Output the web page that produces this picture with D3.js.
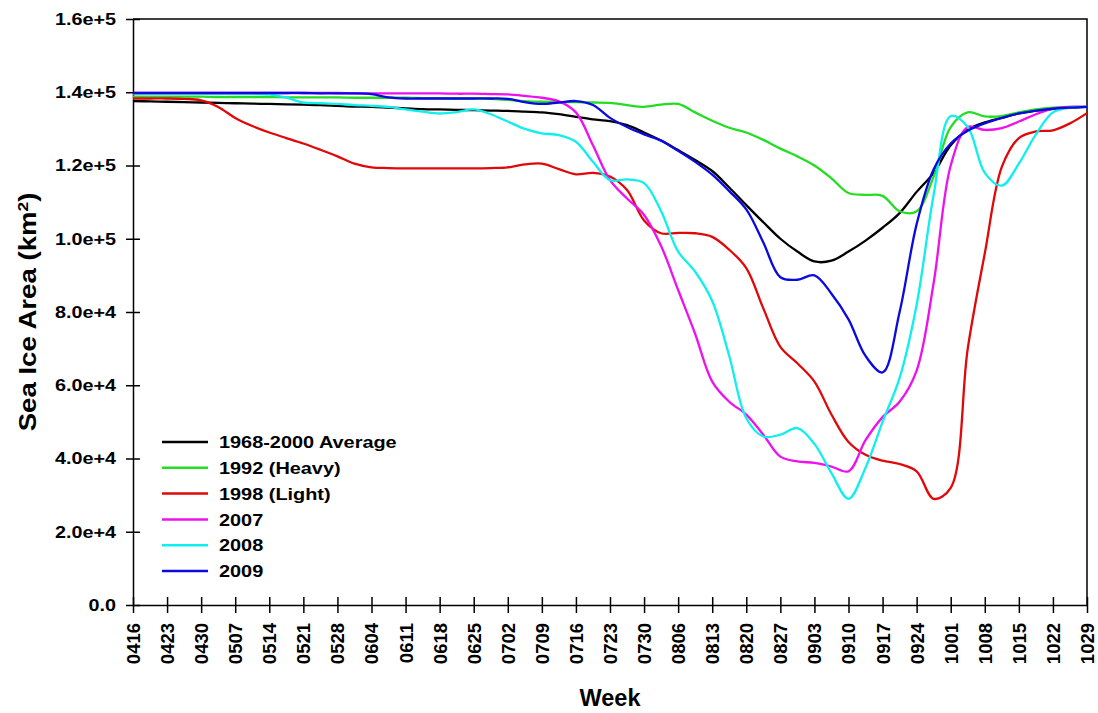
<!DOCTYPE html>
<meta charset="utf-8">
<style>
body { margin: 0; background: #fff; }
svg { font-family: "Liberation Sans", Arial, sans-serif; }
.axis text { font-weight: bold; fill: #000; }
.axis path, .axis line { stroke: #000; stroke-width: 1.5; }
.series { fill: none; stroke-width: 2.3; }
</style>
<body>
<script src="https://cdn.jsdelivr.net/npm/d3@7"></script>
<script>

// week labels (tick marks, one per week)
var weeks = ["0416","0423","0430","0507","0514","0521","0528","0604","0611","0618",
             "0625","0702","0709","0716","0723","0730","0806","0813","0820","0827",
             "0903","0910","0917","0924","1001","1008","1015","1022","1029"];

var yTicks = [0, 20000, 40000, 60000, 80000, 100000, 120000, 140000, 160000];

// values every half week (thousand km2), 0416 .. 1029
var avg = [137.6,137.5,137.4,137.3,137.2,137.1,137.0,136.9,136.8,136.7,
           136.6,136.5,136.3,136.1,136.0,135.8,135.6,135.4,135.3,135.2,
           135.1,135.0,134.9,134.7,134.5,134.0,133.3,132.6,132.1,131.0,
           129.0,126.8,124.2,121.5,118.5,114.0,109.2,104.5,100.0,96.5,
           93.8,94.0,96.5,99.5,103.0,107.0,112.8,118.0,125.5,129.8,
           131.8,133.0,134.2,135.0,135.5,135.8,136.0];

var y1992 = [138.8,138.8,138.8,138.8,138.8,138.7,138.7,138.7,138.7,138.6,
             138.6,138.6,138.6,138.5,138.5,138.5,138.5,138.4,138.4,138.3,
             138.3,138.2,137.9,137.6,137.4,137.3,137.3,137.2,137.1,136.5,
             136.0,136.6,136.8,134.5,132.2,130.3,129.0,127.0,124.6,122.5,
             120.0,116.5,112.5,112.0,111.7,107.5,107.5,117.0,130.5,134.5,
             133.4,133.5,134.5,135.3,135.8,136.0,136.0];

var y1998 = [138.3,138.3,138.3,138.2,137.8,136.0,133.0,130.8,129.0,127.5,
             126.0,124.3,122.5,120.5,119.5,119.3,119.2,119.2,119.2,119.2,
             119.2,119.3,119.5,120.3,120.5,119.0,117.6,118.0,117.0,113.3,
             105.0,101.5,101.6,101.5,100.5,97.0,92.0,81.0,70.5,66.0,
             61.0,52.0,44.5,41.0,39.4,38.5,36.5,29.0,32.0,70.0,
             96.0,119.6,127.5,129.3,129.6,131.5,134.3];

var y2007 = [139.8,139.8,139.8,139.8,139.8,139.8,139.8,139.8,139.8,139.8,
             139.8,139.8,139.8,139.7,139.7,139.7,139.7,139.7,139.7,139.6,
             139.6,139.5,139.4,139.0,138.5,137.5,134.5,125.5,116.0,111.0,
             106.5,98.0,86.0,74.0,61.0,55.5,52.0,46.5,40.5,39.2,
             38.8,37.8,36.5,45.0,51.3,55.5,64.0,88.0,120.0,130.5,
             129.7,130.2,132.0,134.0,135.5,136.0,136.0];

var y2008 = [139.6,139.6,139.6,139.6,139.6,139.6,139.6,139.6,139.4,138.5,
             137.2,137.0,136.8,136.5,136.3,136.0,135.3,134.7,134.2,134.6,
             135.3,134.0,132.0,130.0,128.8,128.3,126.5,121.0,116.0,116.2,
             115.2,107.5,96.5,91.0,83.0,68.0,51.0,46.0,46.5,48.3,
             44.0,36.0,29.0,37.5,50.0,62.0,82.0,112.0,133.5,130.5,
             118.0,114.5,120.5,128.5,134.5,135.8,136.0];

var y2009 = [139.8,139.8,139.8,139.8,139.8,139.8,139.8,139.8,139.8,139.8,
             139.8,139.7,139.7,139.7,139.5,138.6,138.3,138.3,138.3,138.3,
             138.3,138.3,138.2,137.3,136.8,137.2,137.6,136.5,133.0,130.5,
             128.5,126.8,124.0,121.0,117.5,113.0,108.0,99.0,89.5,88.8,
             90.0,85.0,78.0,68.0,63.5,80.0,104.0,119.0,126.0,129.5,
             131.5,133.0,134.2,135.0,135.5,135.8,136.0];

var seriesNames = ["1968-2000 Average", "1992 (Heavy)", "1998 (Light)", "2007", "2008", "2009"];
var seriesData = [avg, y1992, y1998, y2007, y2008, y2009];
var seriesColors = ["#000000", "#22dd22", "#e00808", "#ee11ee", "#11eeee", "#0a0ae0"];

var margin = {top: 19, left: 133, right: 11, bottom: 108},
    width = 1098 - margin.left - margin.right,
    height = 713 - margin.top - margin.bottom;

var svg = d3.select("body").append("svg")
    .attr("width", 1098)
    .attr("height", 713);

var g = svg.append("g")
    .attr("transform", "translate(" + margin.left + "," + margin.top + ")");

var x = d3.scaleLinear().domain([0, weeks.length - 1]).range([0, width]);
var y = d3.scaleLinear().domain([0, 160000]).range([height, 0]);

// frame (top and right)
g.append("path")
    .attr("d", "M0,0H" + width + "V" + height)
    .attr("fill", "none")
    .attr("stroke", "#000")
    .attr("stroke-width", 1.5);

// y axis
var yAxis = g.append("g")
    .attr("class", "axis y")
    .call(d3.axisLeft(y)
        .tickValues(yTicks)
        .tickSizeInner(7).tickSizeOuter(0).tickPadding(10)
        .tickFormat(function(d) { return d === 0 ? "0.0" : d3.format(".1e")(d); }));
yAxis.selectAll(".tick line").attr("x1", 7);
yAxis.selectAll(".tick text")
    .style("font-size", "16.5px")
    .attr("transform", "translate(-17,0) scale(1.2,1) translate(17,0)");

// x axis
var xAxis = g.append("g")
    .attr("class", "axis x")
    .attr("transform", "translate(0," + height + ")")
    .call(d3.axisBottom(x)
        .tickValues(d3.range(weeks.length))
        .tickSizeInner(8).tickSizeOuter(0)
        .tickFormat(function(i) { return weeks[i]; }));
xAxis.selectAll(".tick line").attr("y1", -8);
xAxis.selectAll(".tick text")
    .style("font-size", "18.5px")
    .attr("text-anchor", "end")
    .attr("x", 0).attr("y", 0).attr("dy", "0.35em")
    .attr("transform", "translate(0,18) rotate(-90)");

// axis titles
svg.append("text")
    .attr("transform", "translate(36," + (margin.top + height / 2) + ") rotate(-90) scale(1.15,1)")
    .attr("text-anchor", "middle")
    .style("font-size", "24px")
    .style("font-weight", "bold")
    .html('Sea Ice Area (km<tspan baseline-shift="super" font-size="15px">2</tspan>)');

svg.append("text")
    .attr("x", margin.left + width / 2)
    .attr("y", 706)
    .attr("text-anchor", "middle")
    .style("font-size", "23.5px")
    .style("font-weight", "bold")
    .text("Week");

// lines
var line = d3.line()
    .x(function(d, i) { return x(i / 2); })
    .y(function(d) { return y(d * 1000); })
    .curve(d3.curveCatmullRom.alpha(0.5));

g.selectAll(".series")
    .data(seriesData)
  .enter().append("path")
    .attr("class", "series")
    .attr("stroke", function(d, i) { return seriesColors[i]; })
    .attr("d", line);

// legend
var legend = svg.append("g").attr("transform", "translate(162,442)");
var rows = legend.selectAll("g")
    .data(seriesNames)
  .enter().append("g")
    .attr("transform", function(d, i) { return "translate(0," + (i * 25.8) + ")"; });
rows.append("line")
    .attr("x1", 0).attr("x2", 46)
    .attr("stroke", function(d, i) { return seriesColors[i]; })
    .attr("stroke-width", 2.5);
rows.append("text")
    .attr("x", 57)
    .attr("dy", "0.36em")
    .style("font-size", "17px")
    .style("font-weight", "bold")
    .attr("transform", "translate(57,0) scale(1.17,1) translate(-57,0)")
    .text(function(d) { return d; });

</script>
</body>
